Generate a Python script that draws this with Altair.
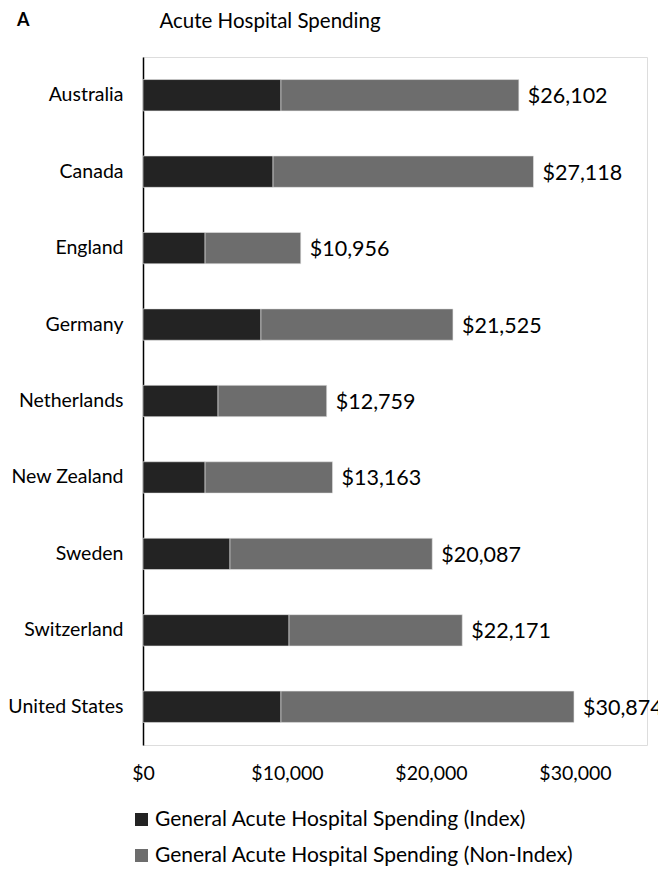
import altair as alt
import pandas as pd

countries = ["Australia", "Canada", "England", "Germany", "Netherlands",
             "New Zealand", "Sweden", "Switzerland", "United States"]
index_vals = [9580, 9030, 4310, 8190, 5210, 4310, 6040, 10140, 9580]
non_index_vals = [16522, 18088, 6646, 13335, 7549, 8853, 14047, 12031, 20350]
total_labels = ["$26,102", "$27,118", "$10,956", "$21,525", "$12,759",
                "$13,163", "$20,087", "$22,171", "$30,874"]
series_names = ["General Acute Hospital Spending (Index)",
                "General Acute Hospital Spending (Non-Index)"]
series_colors = ["#232323", "#6d6d6d"]
x_ticks = [0, 10000, 20000, 30000]

FONT = "Lato"

rows = []
for c, a, b in zip(countries, index_vals, non_index_vals):
    rows.append({"country": c, "series": series_names[0], "value": a, "ord": 0})
    rows.append({"country": c, "series": series_names[1], "value": b, "ord": 1})
bars_df = pd.DataFrame(rows)

labels_df = pd.DataFrame({
    "country": countries,
    "end": [a + b for a, b in zip(index_vals, non_index_vals)],
    "label": total_labels,
})

W, H = 504, 688

x_scale = alt.Scale(domain=[0, 35000], nice=False, zero=True)
y_scale = alt.Scale(domain=countries, paddingInner=0.59, paddingOuter=0.295)

bars = alt.Chart(bars_df).mark_bar(stroke="#e6e6e6", strokeWidth=0.6).encode(
    y=alt.Y("country:N", scale=y_scale, sort=countries,
            axis=alt.Axis(title=None, ticks=False, tickSize=0, labelPadding=20,
                          labelFontSize=19.5, labelFont=FONT, labelColor="#000000",
                          domainColor="#000000", domainWidth=1.5, grid=False)),
    x=alt.X("value:Q", stack="zero", scale=x_scale,
            axis=alt.Axis(title=None, values=x_ticks, format="$,.0f", ticks=False,
                          tickSize=0, domain=False, grid=False, labelPadding=19,
                          labelFontSize=19.5, labelFont=FONT, labelColor="#000000",
                          labelFlush=False)),
    color=alt.Color("series:N", scale=alt.Scale(domain=series_names, range=series_colors),
                    legend=alt.Legend(title=None, orient="none", legendX=-12, legendY=752,
                                      direction="vertical", symbolType="square",
                                      symbolSize=169, symbolStrokeWidth=0,
                                      labelFontSize=21, labelFont=FONT,
                                      labelColor="#000000", labelOffset=3,
                                      rowPadding=14, padding=0, labelLimit=600)),
    order=alt.Order("ord:Q"),
)

labels = alt.Chart(labels_df).mark_text(
    align="left", baseline="middle", dx=9, dy=2, fontSize=21.5, font=FONT, color="#000000"
).encode(
    y=alt.Y("country:N", scale=y_scale, sort=countries),
    x=alt.X("end:Q", scale=x_scale),
    text="label:N",
)

title_df = pd.DataFrame({"t": ["Acute Hospital Spending"]})
title = alt.Chart(title_df).mark_text(
    align="center", baseline="top", fontSize=20.5, font=FONT, color="#000000"
).encode(x=alt.value(127), y=alt.value(-45), text="t:N")

tag_df = pd.DataFrame({"t": ["A"]})
tag = alt.Chart(tag_df).mark_text(
    align="left", baseline="top", fontSize=18, font=FONT, fontWeight="bold",
    color="#000000"
).encode(x=alt.value(-126), y=alt.value(-45), text="t:N")

chart = alt.layer(bars, labels, title, tag).properties(
    width=W, height=H,
    padding={"left": 135, "top": 49, "right": 11, "bottom": 125},
    autosize=alt.AutoSizeParams(type="none"),
).configure_view(stroke=None).configure(background="white")

chart.save("out.html", embed_options={"renderer": "svg", "actions": False})
